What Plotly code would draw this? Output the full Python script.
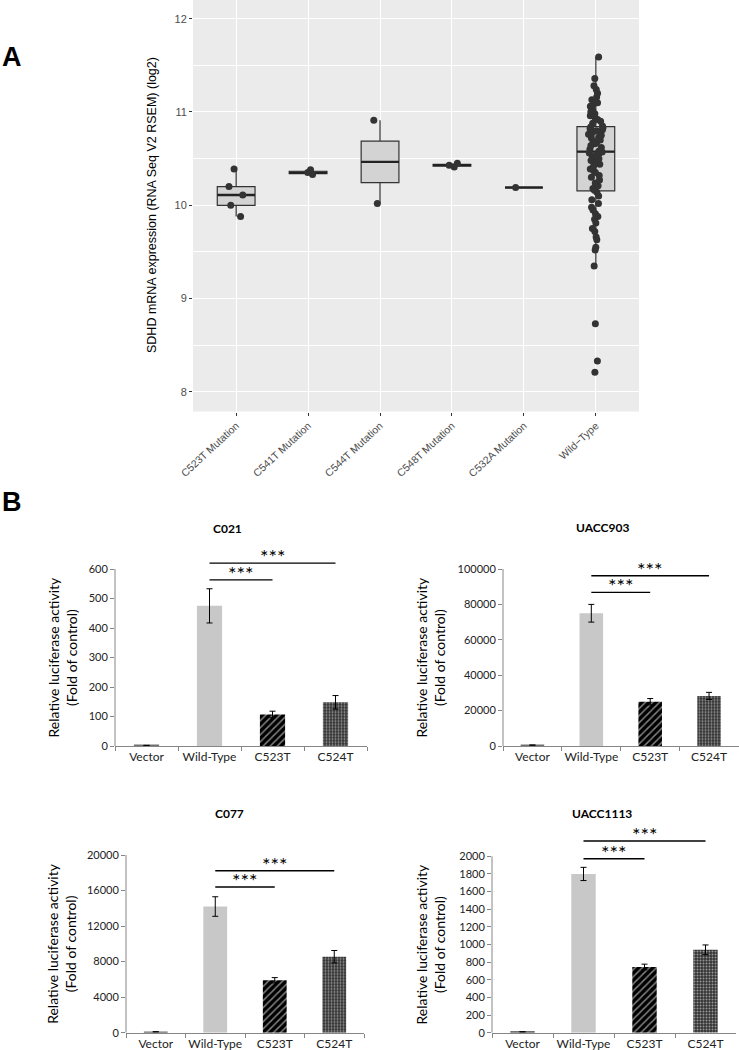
import numpy as np
import plotly.graph_objects as go

W, H = 739, 1050

# ---------------- Panel A data ----------------
groups_a = ["C523T Mutation", "C541T Mutation", "C544T Mutation",
            "C548T Mutation", "C532A Mutation", "Wild\u2212Type"]
c523t = [9.88, 10.00, 10.11, 10.20, 10.39]
c541t = [10.33, 10.35, 10.38]
c544t = [10.02, 10.91]
c548t = [10.41, 10.43, 10.45]
c532a = [10.19]
wild_type = [8.21, 8.33, 8.73, 9.35, 9.52, 9.55, 9.63, 9.66, 9.72, 9.75,
             9.81, 9.85, 9.88, 9.91, 9.95, 9.98, 10.02, 10.06, 10.10, 10.14,
             10.16, 10.18, 10.21, 10.24, 10.27, 10.30, 10.32, 10.35, 10.37, 10.39,
             10.42, 10.44, 10.46, 10.48, 10.50, 10.52, 10.53, 10.55, 10.56, 10.57,
             10.58, 10.60, 10.62, 10.64, 10.66, 10.67, 10.69, 10.70, 10.72, 10.73,
             10.75, 10.76, 10.77, 10.78, 10.79, 10.80, 10.81, 10.82, 10.83, 10.84,
             10.85, 10.88, 10.90, 10.92, 10.94, 10.96, 10.98, 11.00, 11.02, 11.04,
             11.06, 11.08, 11.10, 11.13, 11.16, 11.20, 11.24, 11.28, 11.36, 11.59]
series_a = [c523t, c541t, c544t, c548t, c532a, wild_type]
yticks_a = [8, 9, 10, 11, 12]

# ---------------- Panel B data ----------------
cats_b = ["Vector", "Wild-Type", "C523T", "C524T"]
c021_vals = [2, 475, 107, 148]
c021_err = [0, 58, 11, 23]
uacc903_vals = [500, 75000, 25000, 28300]
uacc903_err = [0, 5000, 1800, 2000]
c077_vals = [100, 14200, 5900, 8550]
c077_err = [0, 1100, 300, 700]
uacc1113_vals = [10, 1800, 745, 940]
uacc1113_err = [0, 75, 32, 55]
c021_ticks = [0, 100, 200, 300, 400, 500, 600]
uacc903_ticks = [0, 20000, 40000, 60000, 80000, 100000]
c077_ticks = [0, 4000, 8000, 12000, 16000, 20000]
uacc1113_ticks = [0, 200, 400, 600, 800, 1000, 1200, 1400, 1600, 1800, 2000]
# significance brackets (height of WT-vs-C523T, WT-vs-C524T)
c021_sig = [563, 620]
uacc903_sig = [86800, 96200]
c077_sig = [16400, 18230]
uacc1113_sig = [1973, 2174]


def fx(px):
    return px / W


def fy(py):
    return 1 - py / H


fig = go.Figure()

# ---------- Panel A ----------
q1s, meds, q3s, lfs, ufs = [], [], [], [], []
for vals in series_a:
    a = np.array(vals, dtype=float)
    q1, med, q3 = np.percentile(a, [25, 50, 75])
    iqr = q3 - q1
    lf = a[a >= q1 - 1.5 * iqr].min()
    uf = a[a <= q3 + 1.5 * iqr].max()
    q1s.append(q1); meds.append(med); q3s.append(q3); lfs.append(lf); ufs.append(uf)

fig.add_trace(go.Box(
    x=groups_a, q1=q1s, median=meds, q3=q3s, lowerfence=lfs, upperfence=ufs,
    fillcolor="#D3D3D3", line=dict(color="#333333", width=1.2), whiskerwidth=0,
    boxpoints=False, xaxis="x", yaxis="y", showlegend=False, hoverinfo="skip"))
# thicker median line
fig.add_trace(go.Box(
    x=groups_a, q1=meds, median=meds, q3=meds, lowerfence=meds, upperfence=meds,
    fillcolor="rgba(0,0,0,0)", line=dict(color="#222222", width=2.4), whiskerwidth=0,
    boxpoints=False, xaxis="x", yaxis="y", showlegend=False, hoverinfo="skip"))
px_list, py_list = [], []
for g, vals in zip(groups_a, series_a):
    px_list += [g] * len(vals)
    py_list += vals
fig.add_trace(go.Box(
    x=px_list, y=py_list, boxpoints="all", jitter=0.45, pointpos=0,
    fillcolor="rgba(0,0,0,0)", line=dict(color="rgba(0,0,0,0)", width=0),
    marker=dict(color="#333333", size=7, line=dict(width=0)),
    xaxis="x", yaxis="y", showlegend=False, hoverinfo="y"))

fig.add_shape(type="rect", xref="x domain", yref="y domain", x0=0, x1=1, y0=0, y1=1,
              fillcolor="#EBEBEB", line=dict(width=0), layer="below")

fontA = "Liberation Sans, Arial, sans-serif"
fig.update_layout(
    xaxis=dict(domain=[fx(193), fx(639)], anchor="y", type="category",
               categoryorder="array", categoryarray=groups_a, range=[-0.6, 5.6],
               showgrid=True, gridcolor="white", gridwidth=1.1, automargin=False,
               ticks="outside", ticklen=3, tickcolor="#333333", tickwidth=1,
               tickangle=-43, tickfont=dict(family=fontA, size=10.5, color="#4D4D4D"),
               showline=False, zeroline=False),
    yaxis=dict(domain=[fy(411.5), 1.0], anchor="x", range=[7.79, 12.2],
               tickvals=yticks_a, showgrid=True, gridcolor="white", gridwidth=1.1,
               minor=dict(dtick=0.5, tick0=8, showgrid=True, gridcolor="white",
                          gridwidth=0.5, ticks=""), automargin=False,
               ticks="outside", ticklen=3, tickcolor="#333333",
               tickfont=dict(family=fontA, size=11, color="#4D4D4D"),
               showline=False, zeroline=False),
    boxmode="overlay", boxgap=0.25,
)

annotations = [
    dict(text="<b>A</b>", x=fx(0), y=fy(57), xref="paper", yref="paper",
         xanchor="left", yanchor="middle", showarrow=False,
         font=dict(family=fontA, size=27, color="black")),
    dict(text="<b>B</b>", x=fx(0), y=fy(502), xref="paper", yref="paper",
         xanchor="left", yanchor="middle", showarrow=False,
         font=dict(family=fontA, size=27, color="black")),
    dict(text="SDHD mRNA expression (RNA Seq V2 RSEM) (log2)", x=fx(152), y=fy(205),
         xref="paper", yref="paper", textangle=-90, showarrow=False,
         xanchor="center", yanchor="middle",
         font=dict(family=fontA, size=12.5, color="black")),
]
shapes = []

# ---------- Panel B ----------
fontB = "Lato, Open Sans, sans-serif"
charts = [
    # name, vals, errs, ticks, sig, x_left, x_right, zero_px, top_px, title_xy, ytitle_x
    ("C021", c021_vals, c021_err, c021_ticks, c021_sig, 115, 367, 746, 569, (227, 528), 62),
    ("UACC903", uacc903_vals, uacc903_err, uacc903_ticks, uacc903_sig, 503, 739, 746, 569, (602, 527), 430),
    ("C077", c077_vals, c077_err, c077_ticks, c077_sig, 126, 364, 1032.7, 855, (229, 813), 62),
    ("UACC1113", uacc1113_vals, uacc1113_err, uacc1113_ticks, uacc1113_sig, 492, 736, 1032.7, 856.3, (602, 813), 430),
]
bar_colors = ["#707070", "#C8C8C8", "black", "#333333"]
bar_shapes = ["", "", "/", "."]
bar_fg = ["#707070", "#C8C8C8", "black", "#E8E8E8"]
bar_bg = ["#707070", "#C8C8C8", "white", "#303030"]
bar_size = [4, 4, 5, 3]
bar_sol = [0.4, 0.4, 0.3, 0.35]

for i, (name, vals, errs, ticks, sig, xl, xr, z, tp, txy, ytx) in enumerate(charts):
    n = i + 2
    xa, ya = f"x{n}", f"y{n}"
    top = ticks[-1]
    rmax = top * 1.2
    dom_top_px = z - (rmax / top) * (z - tp)
    fig.add_trace(go.Bar(
        x=cats_b, y=vals, xaxis=xa, yaxis=ya, width=0.4, showlegend=False,
        marker=dict(color=bar_colors, line=dict(width=0),
                    pattern=dict(shape=bar_shapes, fgcolor=bar_fg, bgcolor=bar_bg,
                                 size=bar_size, solidity=bar_sol)),
        error_y=dict(type="data", array=errs, color="black", thickness=1, width=3)))
    fig.layout[f"xaxis{n}"] = dict(
        domain=[fx(xl), fx(min(xr, W - 0.5))], anchor=ya, type="category", range=[-0.5, 3.5],
        showline=True, linecolor="#868686", linewidth=1, ticks="outside",
        tickson="boundaries", ticklen=4, tickcolor="#868686", showgrid=False,
        zeroline=False, tickangle=0, automargin=False,
        tickfont=dict(family=fontB, size=12, color="#222222"))
    fig.layout[f"yaxis{n}"] = dict(
        domain=[fy(z), fy(dom_top_px)], anchor=xa, range=[0, rmax],
        tickvals=ticks, ticktext=[str(t) for t in ticks], showgrid=False,
        zeroline=False, showline=False, ticks="outside", ticklen=4, automargin=False,
        tickcolor="#868686", tickfont=dict(family=fontB, size=11, color="#222222"))
    # y-axis line (stops at top tick)
    shapes.append(dict(type="line", xref=f"{xa} domain", yref=ya, x0=0, x1=0,
                       y0=0, y1=top, line=dict(color="#868686", width=1)))
    # significance brackets
    for target, h in zip([2, 3], sig):
        shapes.append(dict(type="line", xref=xa, yref=ya, x0=1, x1=target,
                           y0=h, y1=h, line=dict(color="black", width=1.4)))
        annotations.append(dict(text="***", xref=xa, yref=ya, x=(1 + target) / 2, y=h,
                                xanchor="center", yanchor="bottom", showarrow=False,
                                yshift=-7,
                                font=dict(family=fontB, size=20, color="black")))
    annotations.append(dict(text=f"<b>{name}</b>", x=fx(txy[0]), y=fy(txy[1]),
                            xref="paper", yref="paper", showarrow=False,
                            xanchor="center", yanchor="middle",
                            font=dict(family=fontB, size=12, color="black")))
    annotations.append(dict(text="Relative luciferase activity<br>(Fold of control)",
                            x=fx(ytx), y=fy((z + tp) / 2), xref="paper", yref="paper",
                            textangle=-90, showarrow=False,
                            xanchor="center", yanchor="middle",
                            font=dict(family=fontB, size=14, color="black")))

fig.update_layout(
    width=W, height=H, margin=dict(l=0, r=0, t=0, b=0, autoexpand=False),
    paper_bgcolor="white", plot_bgcolor="rgba(0,0,0,0)",
    annotations=annotations, shapes=list(fig.layout.shapes) + shapes,
    showlegend=False, bargap=0.6,
)

fig.write_html("out.html", config={"displayModeBar": False},
               post_script="document.body.style.margin='0';document.body.style.padding='0';")
